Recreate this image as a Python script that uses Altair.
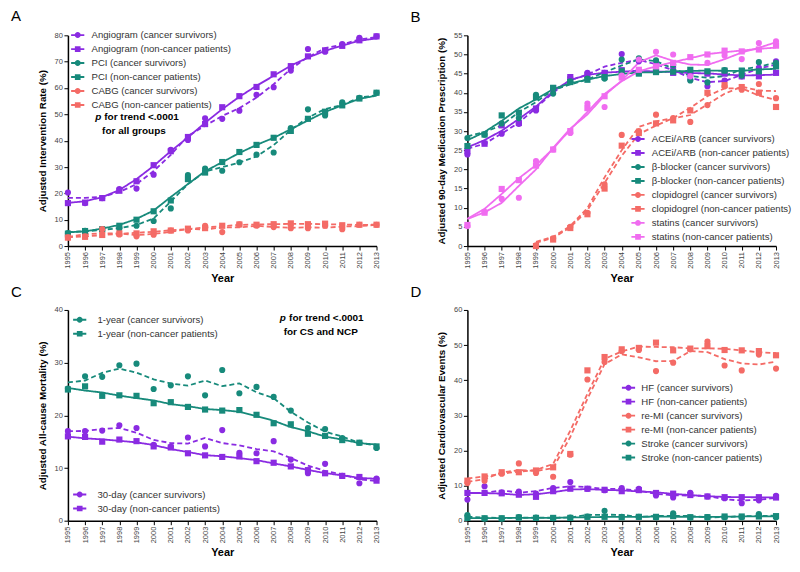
import altair as alt
import pandas as pd

YEARS = list(range(1995, 2014))

# ---------------- Panel A: intervention rates ----------------
angio_cs  = [20.3, 16.3, 18.2, 21.6, 21.8, 27.1, 36.5, 40.3, 48.5, 48.3, 51.4, 57.4, 60.3, 66.6, 74.8, 73.8, 76.7, 79.0, 79.6]
angio_ncp = [16.3, 16.5, 18.2, 21.0, 24.6, 30.7, 36.0, 41.4, 46.3, 52.7, 56.9, 60.4, 65.2, 68.3, 72.0, 74.3, 76.0, 78.1, 79.6]
pci_cs    = [4.9, 5.8, 6.0, 6.7, 7.7, 9.5, 14.3, 26.9, 29.4, 28.6, 31.8, 34.7, 35.5, 44.8, 51.9, 49.6, 54.6, 56.3, 58.2]
pci_ncp   = [4.7, 5.7, 6.4, 7.7, 10.0, 13.2, 17.3, 25.4, 27.9, 31.9, 35.7, 38.4, 41.1, 43.7, 48.3, 51.0, 53.4, 56.0, 58.2]
cabg_cs   = [3.3, 3.7, 6.4, 4.4, 3.7, 4.3, 5.9, 5.9, 7.7, 5.3, 8.2, 7.7, 7.2, 6.8, 6.8, 7.7, 6.4, 8.1, 8.1]
cabg_ncp  = [3.2, 3.5, 4.2, 4.8, 4.8, 5.6, 5.9, 6.6, 6.8, 7.7, 8.2, 8.1, 8.3, 8.6, 8.3, 8.5, 7.9, 8.1, 8.1]

# ---------------- Panel B: 90-day medication ----------------
acei_cs   = [23.9, 26.9, 29.3, 31.9, 35.4, 40.8, 43.9, 45.2, 45.2, 50.1, 48.2, 47.5, 46.7, 43.4, 41.7, 43.2, 44.3, 46.5, 48.2]
acei_ncp  = [24.8, 26.7, 31.5, 32.1, 35.9, 41.2, 44.1, 44.7, 45.2, 45.9, 45.4, 46.0, 45.2, 45.2, 45.0, 45.0, 44.3, 44.3, 45.2]
beta_cs   = [28.2, 29.1, 32.0, 33.4, 39.5, 39.8, 43.0, 43.7, 43.7, 48.7, 49.0, 48.5, 47.3, 43.2, 42.7, 45.9, 44.5, 48.0, 47.8]
beta_ncp  = [26.1, 29.1, 34.1, 34.8, 38.8, 41.3, 42.8, 43.4, 44.1, 45.6, 45.0, 45.4, 45.5, 46.0, 45.6, 45.8, 45.8, 45.6, 46.9]
clop_cs   = [None, None, None, None, 0.2, 2.0, 5.0, 8.7, 16.1, 29.0, 30.0, 34.3, 33.4, 32.4, 36.8, 41.7, 40.8, 42.3, 38.6]
clop_ncp  = [None, None, None, None, 0.0, 1.7, 4.7, 8.3, 15.0, 26.2, 29.5, 32.0, 32.8, 35.4, 40.0, 42.0, 41.5, 40.0, 36.3]
stat_cs   = [5.2, 8.9, 12.3, 12.6, 22.2, 25.2, 29.5, 37.2, 36.3, 44.5, 48.7, 50.7, 50.0, 44.3, 47.8, 49.7, 48.8, 53.0, 53.4]
stat_ncp  = [5.5, 8.7, 14.9, 17.2, 21.0, 25.2, 30.0, 36.0, 39.1, 44.0, 46.0, 46.9, 47.8, 49.3, 50.0, 51.0, 50.8, 51.3, 52.3]

# ---------------- Panel C: all-cause mortality ----------------
y1_cs   = [25.1, 27.4, 27.3, 29.5, 29.8, 25.0, 25.7, 27.4, 23.8, 28.6, 24.2, 25.4, 23.5, 20.9, 17.6, 17.4, 15.7, 14.8, 13.8]
y1_ncp  = [24.9, 25.5, 23.7, 23.8, 23.7, 22.3, 22.5, 21.6, 21.1, 20.9, 21.0, 20.1, 18.5, 18.3, 16.5, 16.1, 15.3, 14.8, 14.1]
d30_cs  = [17.0, 17.0, 17.1, 18.1, 17.6, 14.4, 14.0, 15.8, 14.1, 17.2, 12.9, 12.8, 15.1, 11.6, 9.0, 10.8, 8.5, 7.1, 8.0]
d30_ncp = [16.0, 15.9, 15.0, 15.4, 15.1, 14.1, 13.9, 12.8, 12.4, 12.1, 12.2, 11.3, 11.0, 10.3, 9.6, 9.0, 8.5, 8.3, 7.6]

# ---------------- Panel D: cardiovascular events ----------------
hf_cs     = [6.0, 9.8, 7.9, 8.3, 7.7, 9.3, 11.0, 9.1, 8.7, 9.3, 9.1, 7.2, 6.6, 7.9, 6.9, 6.4, 5.0, 5.8, 7.1]
hf_ncp    = [7.9, 7.9, 7.8, 7.4, 6.8, 8.4, 9.1, 9.1, 8.8, 8.4, 8.7, 7.9, 7.7, 7.3, 6.9, 6.7, 6.7, 6.7, 6.6]
remi_cs   = [10.7, 11.4, 13.4, 16.3, 13.6, 12.5, 18.8, 40.2, 45.2, 48.3, 48.6, 42.6, 45.0, 48.8, 51.0, 44.2, 42.8, 47.3, 43.3]
remi_ncp  = [11.4, 12.6, 13.8, 13.8, 14.3, 15.2, 19.0, 42.8, 46.6, 48.8, 49.2, 50.7, 48.5, 49.0, 49.7, 48.6, 48.5, 48.3, 47.1]
stroke_cs  = [1.6, 0.6, 0.6, 1.0, 0.9, 0.7, 0.9, 1.2, 2.8, 1.1, 1.1, 1.0, 2.1, 0.9, 1.0, 1.0, 1.0, 1.9, 1.0]
stroke_ncp = [0.8, 0.7, 0.7, 0.9, 0.8, 0.8, 0.8, 1.1, 1.1, 1.0, 1.1, 1.1, 1.3, 1.0, 1.0, 1.2, 1.2, 1.2, 1.3]

PURPLE = "#8a2be2"
TEAL = "#178a7b"
CORAL = "#f46b66"
PINK = "#f06cf0"

CIRCLE_LEG = "M-2.2,-0.32H2.2V0.32H-2.2Z M1,0A1,1 0 1,1 -1,0A1,1 0 1,1 1,0Z"
SQUARE_LEG = "M-2.2,-0.32H2.2V0.32H-2.2Z M-0.95,-0.95H0.95V0.95H-0.95Z"

FONT = "Liberation Sans"

# (name, color, kind, dashed, values)
A_SERIES = [
    ("Angiogram (cancer survivors)", PURPLE, "cs", True, angio_cs),
    ("Angiogram (non-cancer patients)", PURPLE, "ncp", False, angio_ncp),
    ("PCI (cancer survivors)", TEAL, "cs", True, pci_cs),
    ("PCI (non-cancer patients)", TEAL, "ncp", False, pci_ncp),
    ("CABG (cancer survivors)", CORAL, "cs", True, cabg_cs),
    ("CABG (non-cancer patients)", CORAL, "ncp", True, cabg_ncp),
]
B_SERIES = [
    ("ACEi/ARB (cancer survivors)", PURPLE, "cs", True, acei_cs),
    ("ACEi/ARB (non-cancer patients)", PURPLE, "ncp", False, acei_ncp),
    ("\u03b2-blocker (cancer survivors)", TEAL, "cs", True, beta_cs),
    ("\u03b2-blocker (non-cancer patients)", TEAL, "ncp", False, beta_ncp),
    ("clopidogrel (cancer survivors)", CORAL, "cs", True, clop_cs),
    ("clopidogrel (non-cancer patients)", CORAL, "ncp", True, clop_ncp),
    ("statins (cancer survivors)", PINK, "cs", False, stat_cs),
    ("statins (non-cancer patients)", PINK, "ncp", False, stat_ncp),
]
C_SERIES = [
    ("1-year (cancer survivors)", TEAL, "cs", True, y1_cs),
    ("1-year (non-cancer patients)", TEAL, "ncp", False, y1_ncp),
    ("30-day (cancer survivors)", PURPLE, "cs", True, d30_cs),
    ("30-day (non-cancer patients)", PURPLE, "ncp", False, d30_ncp),
]
D_SERIES = [
    ("HF (cancer survivors)", PURPLE, "cs", True, hf_cs),
    ("HF (non-cancer patients)", PURPLE, "ncp", False, hf_ncp),
    ("re-MI (cancer survivors)", CORAL, "cs", True, remi_cs),
    ("re-MI (non-cancer patients)", CORAL, "ncp", True, remi_ncp),
    ("Stroke (cancer survivors)", TEAL, "cs", True, stroke_cs),
    ("Stroke (non-cancer patients)", TEAL, "ncp", False, stroke_ncp),
]

W, H = 309, 211


def make_df(series):
    rows = []
    for name, _c, _k, _d, vals in series:
        for yr, v in zip(YEARS, vals):
            if v is not None:
                rows.append({"year": yr, "value": v, "series": name})
    return pd.DataFrame(rows)


def panel(series, letter, ytitle, ymax, ystep, legends, notes):
    names = [s[0] for s in series]
    colors = [s[1] for s in series]
    shapes = ["circle" if s[2] == "cs" else "square" for s in series]
    dashes = [[5, 3] if s[3] else [1, 0] for s in series]
    df = make_df(series)
    base = alt.Chart(df)

    xscale = alt.Scale(domain=[1995, 2013], nice=False, zero=False)
    xaxis = alt.Axis(values=YEARS, format="d", labelAngle=270, title="Year")
    yscale = alt.Scale(domain=[0, ymax], nice=False, zero=True)
    yaxis = alt.Axis(values=list(range(0, ymax + 1, ystep)), title=ytitle)
    color = alt.Color("series:N", scale=alt.Scale(domain=names, range=colors), legend=None)

    lines = base.transform_window(
        sm="mean(value)", frame=[-1, 1], groupby=["series"], sort=[alt.SortField("year")]
    ).mark_line(strokeWidth=1.8).encode(
        x=alt.X("year:Q", scale=xscale, axis=xaxis),
        y=alt.Y("sm:Q", scale=yscale, axis=yaxis),
        color=color,
        strokeDash=alt.StrokeDash("series:N", scale=alt.Scale(domain=names, range=dashes), legend=None),
        order="year:Q",
    )
    points = base.mark_point(filled=True, size=38, opacity=1).encode(
        x=alt.X("year:Q", scale=xscale, axis=xaxis),
        y=alt.Y("value:Q", scale=yscale, axis=yaxis),
        color=color,
        shape=alt.Shape("series:N", scale=alt.Scale(domain=names, range=shapes), legend=None),
    )
    layers = [lines, points]

    for (idx, lx, ly, loff) in legends:
        sub_names = [names[i] for i in idx]
        sub_colors = [colors[i] for i in idx]
        sub_paths = [CIRCLE_LEG if shapes[i] == "circle" else SQUARE_LEG for i in idx]
        leg = alt.Legend(orient="none", legendX=lx, legendY=ly, title=None,
                         labelFontSize=9.6, labelColor="#333", labelFont=FONT,
                         labelOffset=loff, rowPadding=3, symbolSize=36,
                         symbolStrokeWidth=0, labelLimit=400)
        layers.append(
            base.transform_filter("false").mark_point(filled=True, size=36, opacity=1).encode(
                shape=alt.Shape("series:N", scale=alt.Scale(domain=sub_names, range=sub_paths), legend=leg),
                color=alt.Color("series:N", scale=alt.Scale(domain=sub_names, range=sub_colors), legend=leg),
            )
        )

    if notes:
        ndf = pd.DataFrame(notes, columns=["x", "y", "text", "italic", "align"])
        for al in ["left", "center"]:
            for it in [True, False]:
                sub = ndf[(ndf["italic"] == it) & (ndf["align"] == al)]
                if len(sub) == 0:
                    continue
                layers.append(
                    alt.Chart(sub).mark_text(
                        fontSize=10, fontWeight="bold", fontStyle="italic" if it else "normal",
                        align=al, baseline="middle", color="black", font=FONT,
                    ).encode(
                        x=alt.X("x:Q", scale=xscale, axis=xaxis),
                        y=alt.Y("y:Q", scale=yscale, axis=yaxis),
                        text="text:N",
                    )
                )

    return alt.layer(*layers).resolve_scale(
        color="independent", shape="independent", strokeDash="independent"
    ).properties(
        width=W, height=H,
        title=alt.Title(letter, anchor="start", frame="group", dx=-57, fontSize=15,
                        fontWeight="normal", font=FONT, color="black", offset=6),
    )


pA = panel(A_SERIES, "A", "Adjusted Intervention Rate (%)", 80, 10,
           [([0, 1, 2, 3, 4, 5], 5, -5, 9)],
           [(1996.6, 48.9, "p", True, "left"),
            (1997.12, 48.9, "for trend <.0001", False, "left"),
            (1998.85, 43.6, "for all groups", False, "center")])
pB = panel(B_SERIES, "B", "Adjusted 90-day Medication Prescription (%)", 55, 5,
           [([0, 1, 2, 3, 4, 5, 6, 7], 166, 99, 9)], [])
pC = panel(C_SERIES, "C", "Adjusted All-cause Mortality (%)", 40, 10,
           [([0, 1], 7, 5, 13), ([2, 3], 7, 180, 13)],
           [(2007.36, 38.5, "p", True, "left"),
            (2007.9, 38.5, "for trend <.0001", False, "left"),
            (2009.75, 35.8, "for CS and NCP", False, "center")])
pD = panel(D_SERIES, "D", "Adjusted Cardiovascular Events (%)", 60, 10,
           [([0, 1, 2, 3, 4, 5], 156.5, 73, 8)], [])

chart = alt.concat(pA, pB, pC, pD, columns=2, spacing={"row": 64, "column": 91},
                   bounds="flush").properties(
    padding={"left": 3, "top": 1, "right": 0, "bottom": 0},
    background="white",
).configure_view(stroke=None).configure_axis(
    grid=False, domainColor="black", domainWidth=1.5, tickColor="black", tickWidth=1,
    tickSize=4, labelFontSize=7.5, labelColor="#444", labelFont=FONT, labelPadding=1.5,
    titleFontSize=9.8, titleFontWeight="bold", titleColor="black", titleFont=FONT,
).configure_axisX(titleFontSize=11, titlePadding=4).configure_axisY(titlePadding=7)

chart.save("out.html", embed_options={"renderer": "svg", "actions": False})
